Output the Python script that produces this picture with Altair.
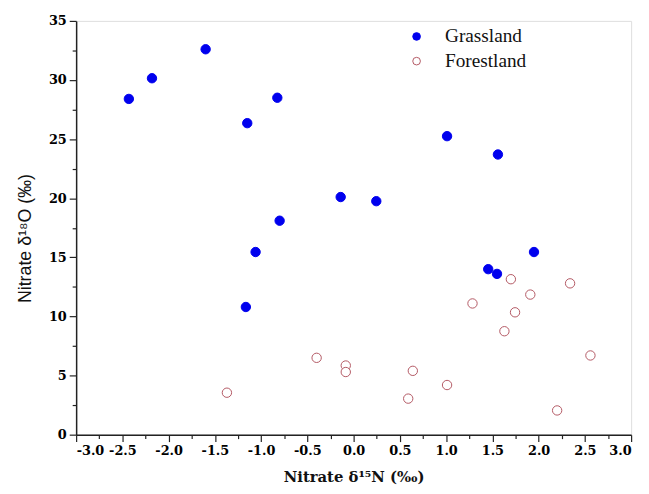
import altair as alt
import pandas as pd

grass_x = [-2.43, -2.18, -1.60, -1.15, -0.825, -0.80, -1.06, -1.165, -0.14, 0.245, 1.01, 1.56, 1.95, 1.455, 1.55]
grass_y = [28.4, 30.15, 32.6, 26.35, 28.5, 18.1, 15.45, 10.8, 20.1, 19.75, 25.25, 23.7, 15.45, 14.0, 13.6]
forest_x = [-1.37, -0.40, -0.085, -0.085, 0.64, 0.59, 1.01, 1.285, 1.70, 1.91, 1.745, 1.63, 2.34, 2.56, 2.20]
forest_y = [3.55, 6.5, 5.85, 5.3, 5.4, 3.05, 4.2, 11.1, 13.15, 11.85, 10.35, 8.75, 12.8, 6.7, 2.05]

x_major = [-3.0, -2.5, -2.0, -1.5, -1.0, -0.5, 0.0, 0.5, 1.0, 1.5, 2.0, 2.5, 3.0]
x_minor = [-2.75, -2.25, -1.75, -1.25, -0.75, -0.25, 0.25, 0.75, 1.25, 1.75, 2.25, 2.75]
y_major = [0, 5, 10, 15, 20, 25, 30, 35]
y_minor = [2.5, 7.5, 12.5, 17.5, 22.5, 27.5, 32.5]

df = pd.DataFrame({
    "x": grass_x + forest_x,
    "y": grass_y + forest_y,
    "group": ["Grassland"] * len(grass_x) + ["Forestland"] * len(forest_x),
})

xs = alt.Scale(domain=[-3, 3], nice=False, zero=False)
ys = alt.Scale(domain=[0, 35], nice=False, zero=False)

color = alt.Color(
    "group:N",
    scale=alt.Scale(domain=["Grassland", "Forestland"], range=["#0000ee", "#b35864"]),
    legend=alt.Legend(
        title=None, orient="none", legendX=335, legendY=6, padding=0,
        labelFont="Liberation Serif", labelFontSize=19.5, labelColor="#111111",
        symbolSize=60, symbolStrokeWidth=1, labelOffset=19, rowPadding=4,
    ),
)
fill = alt.Fill(
    "group:N",
    scale=alt.Scale(domain=["Grassland", "Forestland"], range=["#0000ee", "#ffffff"]),
    legend=None,
)

axis_common = dict(
    labelFont="DejaVu Serif", labelFontWeight="bold", labelFontSize=13, labelColor="#000000",
    domainColor="#222222", domainWidth=1.5, tickColor="#222222", tickWidth=1.2,
    grid=False,
)

main = alt.Chart(df).mark_point(shape="circle", size=90, opacity=1, strokeWidth=1).encode(
    x=alt.X("x:Q", scale=xs, axis=alt.Axis(
        values=x_major, tickSize=7, labelPadding=3,
        labelExpr="datum.value < 0 ? '-' + format(-datum.value, '.1f') : format(datum.value, '.1f')",
        title="Nitrate δ¹⁵N (‰)", titleFont="DejaVu Serif", titleFontWeight="bold",
        titleFontSize=15, titleColor="#111111", titlePadding=12, **axis_common)),
    y=alt.Y("y:Q", scale=ys, axis=alt.Axis(
        values=y_major, format="d", tickSize=7, labelPadding=3,
        title="Nitrate δ¹⁸O (‰)", titleFont="Liberation Sans", titleFontWeight="normal",
        titleFontSize=18, titleColor="#111111", titlePadding=14, titleY=220, **axis_common)),
    color=color,
    fill=fill,
)

minor = alt.Chart(df).mark_point(opacity=0).encode(
    x=alt.X("x:Q", scale=xs, axis=alt.Axis(
        orient="bottom", values=x_minor, tickSize=4, labels=False, domain=False, title=None,
        grid=False, tickColor="#222222", tickWidth=1.2)),
    y=alt.Y("y:Q", scale=ys, axis=alt.Axis(
        orient="left", values=y_minor, tickSize=4, labels=False, domain=False, title=None,
        grid=False, tickColor="#222222", tickWidth=1.2)),
)

chart = alt.layer(main, minor).resolve_axis(x="independent", y="independent").properties(
    width=562, height=419,
    autosize=alt.AutoSizeParams(type="none"),
    padding={"left": 69, "top": 10, "right": 10, "bottom": 56},
).configure_view(stroke=None).configure_axis(
    labelFontWeight="bold", labelFont="DejaVu Serif"
).configure(background="white")

chart.save("out.html", embed_options={"renderer": "svg", "actions": False})
